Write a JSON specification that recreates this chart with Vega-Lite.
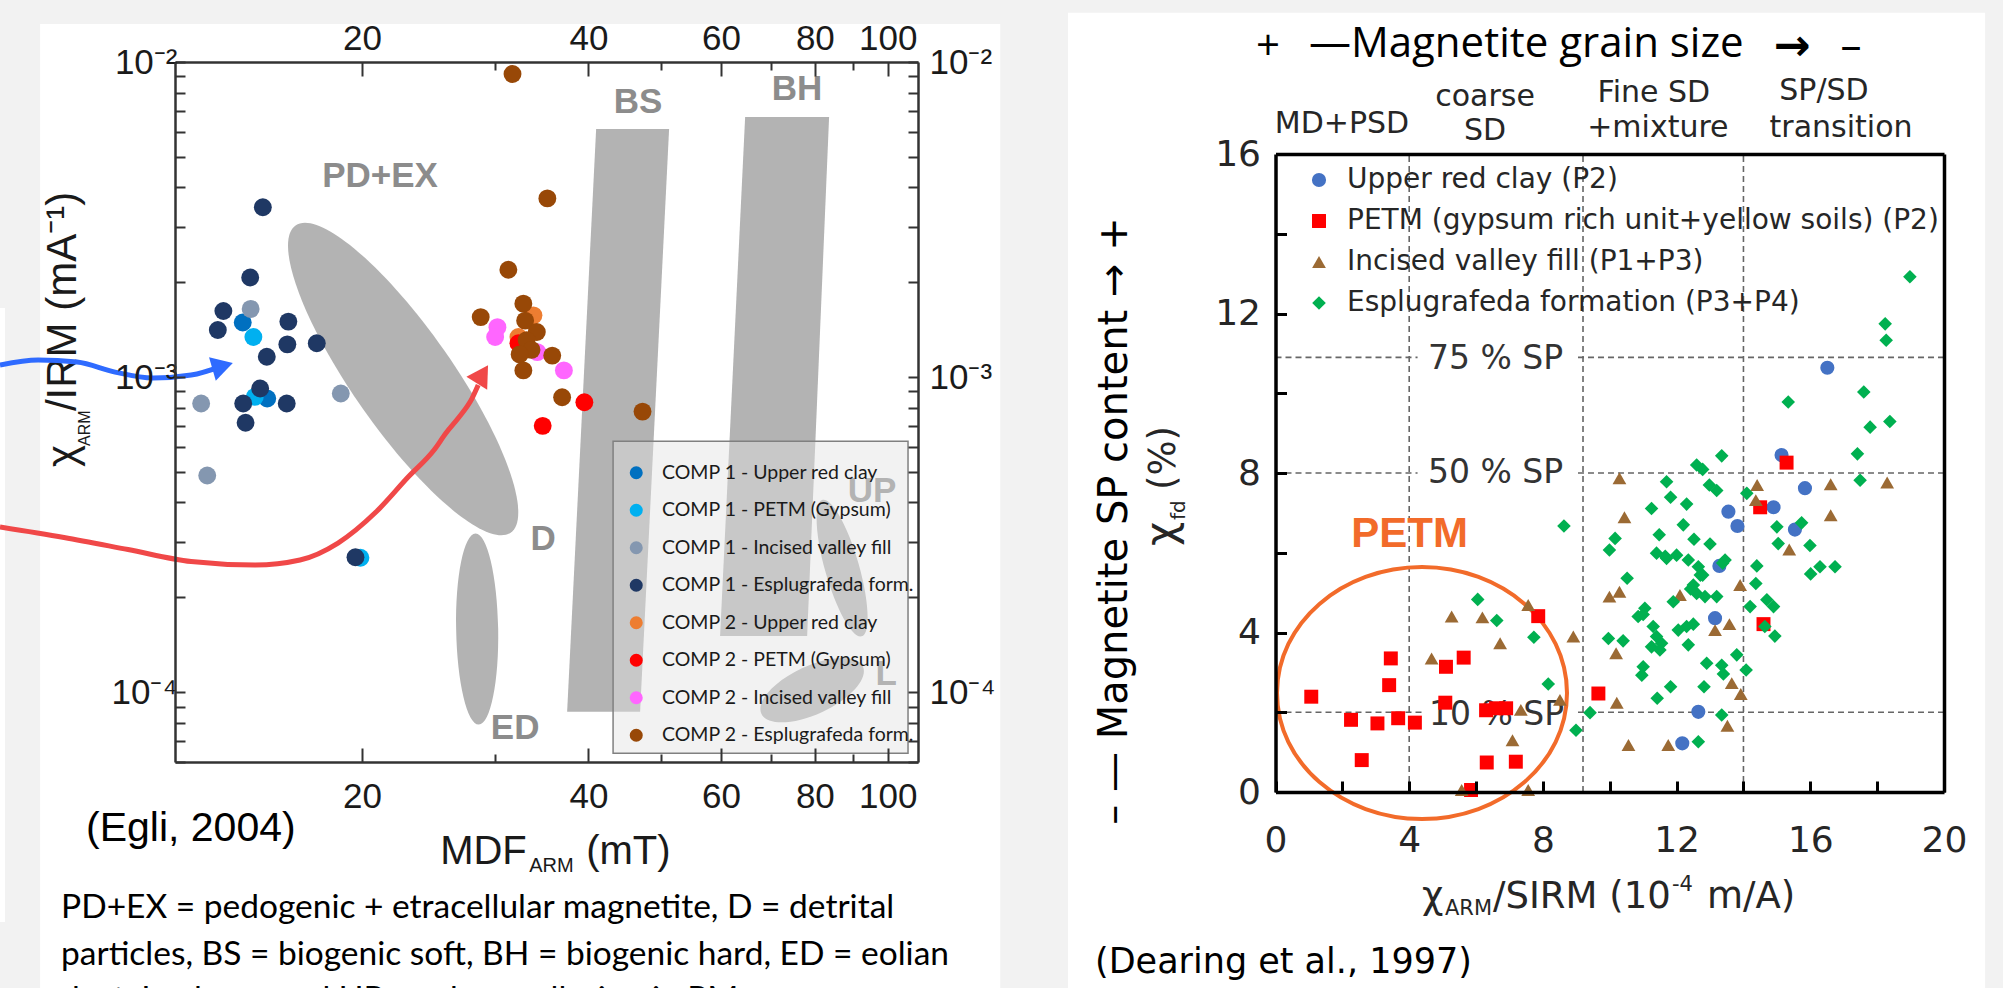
{
"$schema":"https://vega.github.io/schema/vega-lite/v6.json",
"width":2003,"height":988,"padding":0,"autosize":{"type":"none"},
"background":"#f2f2f2",
"config":{"view":{"stroke":null},"axis":{"grid":false,"zindex":1}},
"datasets":{
"one":[{}],
"leftPanels":[{"x":7.463,"x2":141.1,"y":0.0132,"y2":0.00001149},{"x":6.601,"x2":6.703,"y":0.001656,"y2":0.00001862}],
"polys":[{"name":"BS","y":0.00613,"xl":40.95,"xr":51.2},{"name":"BS","y":0.0000867,"xl":37.47,"xr":46.85},{"name":"BH","y":0.00669,"xl":64.62,"xr":83.56},{"name":"BH","y":0.0001506,"xl":59.85,"xr":78.13}],
"leftLabels":[{"t":"PD+EX","x":21.13,"y":0.004345},{"t":"BS","x":46.57,"y":0.007464},{"t":"BH","x":75.77,"y":0.008209},{"t":"D","x":34.82,"y":0.000306},{"t":"ED","x":31.96,"y":0.00007686},{"t":"UP","x":95.33,"y":0.0004346},{"t":"L","x":99.5,"y":0.00011405}],
"leftPoints":[
{"x":13.88,"y":0.00149,"g":"COMP 1 - Upper red clay"},{"x":14.96,"y":0.000855,"g":"COMP 1 - Upper red clay"},
{"x":14.34,"y":0.00134,"g":"COMP 1 - PETM (Gypsum)"},{"x":14.4,"y":0.000865,"g":"COMP 1 - PETM (Gypsum)"},{"x":19.9,"y":0.000267,"g":"COMP 1 - PETM (Gypsum)"},
{"x":14.22,"y":0.001645,"g":"COMP 1 - Incised valley fill"},{"x":12.22,"y":0.000824,"g":"COMP 1 - Incised valley fill"},{"x":18.74,"y":0.000887,"g":"COMP 1 - Incised valley fill"},{"x":12.45,"y":0.000487,"g":"COMP 1 - Incised valley fill"},
{"x":14.76,"y":0.00346,"g":"COMP 1 - Esplugrafeda form."},{"x":14.2,"y":0.00207,"g":"COMP 1 - Esplugrafeda form."},{"x":13.08,"y":0.00162,"g":"COMP 1 - Esplugrafeda form."},{"x":12.86,"y":0.00141,"g":"COMP 1 - Esplugrafeda form."},{"x":15.96,"y":0.0015,"g":"COMP 1 - Esplugrafeda form."},{"x":15.91,"y":0.00127,"g":"COMP 1 - Esplugrafeda form."},{"x":17.41,"y":0.00128,"g":"COMP 1 - Esplugrafeda form."},{"x":14.94,"y":0.00116,"g":"COMP 1 - Esplugrafeda form."},{"x":14.64,"y":0.00092,"g":"COMP 1 - Esplugrafeda form."},{"x":13.9,"y":0.000824,"g":"COMP 1 - Esplugrafeda form."},{"x":15.88,"y":0.000824,"g":"COMP 1 - Esplugrafeda form."},{"x":14.0,"y":0.000716,"g":"COMP 1 - Esplugrafeda form."},{"x":19.6,"y":0.000268,"g":"COMP 1 - Esplugrafeda form."},
{"x":33.8,"y":0.00157,"g":"COMP 2 - Upper red clay"},{"x":32.28,"y":0.00134,"g":"COMP 2 - Upper red clay"},
{"x":32.28,"y":0.00128,"g":"COMP 2 - PETM (Gypsum)"},{"x":39.5,"y":0.000832,"g":"COMP 2 - PETM (Gypsum)"},{"x":34.77,"y":0.0007,"g":"COMP 2 - PETM (Gypsum)"},
{"x":30.27,"y":0.00144,"g":"COMP 2 - Incised valley fill"},{"x":30.06,"y":0.00134,"g":"COMP 2 - Incised valley fill"},{"x":34.2,"y":0.0012,"g":"COMP 2 - Incised valley fill"},{"x":37.1,"y":0.00105,"g":"COMP 2 - Incised valley fill"},
{"x":31.7,"y":0.00916,"g":"COMP 2 - Esplugrafeda form."},{"x":35.27,"y":0.00369,"g":"COMP 2 - Esplugrafeda form."},{"x":31.3,"y":0.00219,"g":"COMP 2 - Esplugrafeda form."},{"x":32.77,"y":0.00171,"g":"COMP 2 - Esplugrafeda form."},{"x":28.76,"y":0.00155,"g":"COMP 2 - Esplugrafeda form."},{"x":32.95,"y":0.00151,"g":"COMP 2 - Esplugrafeda form."},{"x":34.15,"y":0.00139,"g":"COMP 2 - Esplugrafeda form."},{"x":33.1,"y":0.00131,"g":"COMP 2 - Esplugrafeda form."},{"x":33.6,"y":0.00122,"g":"COMP 2 - Esplugrafeda form."},{"x":32.4,"y":0.00118,"g":"COMP 2 - Esplugrafeda form."},{"x":35.8,"y":0.00117,"g":"COMP 2 - Esplugrafeda form."},{"x":32.77,"y":0.00105,"g":"COMP 2 - Esplugrafeda form."},{"x":36.9,"y":0.000863,"g":"COMP 2 - Esplugrafeda form."},{"x":47.2,"y":0.000777,"g":"COMP 2 - Esplugrafeda form."}
],
"arrows":[
{"a":"blue","x":6.601,"y":0.001092},{"a":"blue","x":7.418,"y":0.001132},{"a":"blue","x":8.357,"y":0.001116},{"a":"blue","x":9.388,"y":0.001037},{"a":"blue","x":10.546,"y":0.0009927},{"a":"blue","x":11.85,"y":0.001015},{"a":"blue","x":13.03,"y":0.001084},
{"a":"red","x":6.601,"y":0.0003341},{"a":"red","x":8.03,"y":0.0003094},{"a":"red","x":9.77,"y":0.0002834},{"a":"red","x":11.85,"y":0.0002597},{"a":"red","x":14.414,"y":0.0002531},{"a":"red","x":16.54,"y":0.0002626},{"a":"red","x":18.58,"y":0.0002972},{"a":"red","x":20.87,"y":0.0003728},{"a":"red","x":23.03,"y":0.0004814},{"a":"red","x":24.93,"y":0.0005865},{"a":"red","x":25.86,"y":0.0006641},{"a":"red","x":26.92,"y":0.0007464},{"a":"red","x":28.02,"y":0.0008577},{"a":"red","x":28.54,"y":0.0009431}
],
"rulesH":[{"x":0,"x2":4.25,"y":10.9},{"x":9.05,"x2":20,"y":10.9},{"x":0,"x2":4.25,"y":8},{"x":9.05,"x2":20,"y":8},{"x":0,"x2":4.4,"y":2},{"x":9.05,"x2":20,"y":2}],
"rulesV":[{"x":4,"y":0,"y2":16},{"x":9.2,"y":0,"y2":16},{"x":14,"y":0,"y2":16}],
"spLabels":[{"t":"75 % SP","x":4.56,"y":10.86},{"t":"50 % SP","x":4.56,"y":8.0},{"t":"10 % SP","x":4.59,"y":1.93}],
"catLabels":[{"t":"MD+PSD","x":1.99,"y":16.53},{"t":"coarse","x":6.27,"y":17.2},{"t":"SD","x":6.27,"y":16.35},{"t":"Fine SD","x":11.32,"y":17.3},{"t":"+mixture","x":11.44,"y":16.43},{"t":"SP/SD","x":16.41,"y":17.35},{"t":"transition","x":16.92,"y":16.43}],
"rightPoints":[
{"x":13.55,"y":7.03,"g":"Upper red clay (P2)"},{"x":13.82,"y":6.67,"g":"Upper red clay (P2)"},{"x":13.28,"y":5.67,"g":"Upper red clay (P2)"},{"x":13.15,"y":4.36,"g":"Upper red clay (P2)"},{"x":12.65,"y":2.01,"g":"Upper red clay (P2)"},{"x":12.17,"y":1.22,"g":"Upper red clay (P2)"},{"x":14.9,"y":7.14,"g":"Upper red clay (P2)"},{"x":15.14,"y":8.45,"g":"Upper red clay (P2)"},{"x":16.51,"y":10.64,"g":"Upper red clay (P2)"},{"x":15.84,"y":7.62,"g":"Upper red clay (P2)"},{"x":15.54,"y":6.58,"g":"Upper red clay (P2)"},
{"x":1.07,"y":2.39,"g":"PETM (gypsum rich unit+yellow soils) (P2)"},{"x":3.45,"y":3.35,"g":"PETM (gypsum rich unit+yellow soils) (P2)"},{"x":3.4,"y":2.68,"g":"PETM (gypsum rich unit+yellow soils) (P2)"},{"x":2.26,"y":1.81,"g":"PETM (gypsum rich unit+yellow soils) (P2)"},{"x":3.05,"y":1.72,"g":"PETM (gypsum rich unit+yellow soils) (P2)"},{"x":3.67,"y":1.85,"g":"PETM (gypsum rich unit+yellow soils) (P2)"},{"x":4.17,"y":1.74,"g":"PETM (gypsum rich unit+yellow soils) (P2)"},{"x":2.58,"y":0.8,"g":"PETM (gypsum rich unit+yellow soils) (P2)"},{"x":5.1,"y":3.14,"g":"PETM (gypsum rich unit+yellow soils) (P2)"},{"x":5.63,"y":3.37,"g":"PETM (gypsum rich unit+yellow soils) (P2)"},{"x":5.08,"y":2.24,"g":"PETM (gypsum rich unit+yellow soils) (P2)"},{"x":6.3,"y":2.05,"g":"PETM (gypsum rich unit+yellow soils) (P2)"},{"x":6.6,"y":2.1,"g":"PETM (gypsum rich unit+yellow soils) (P2)"},{"x":6.9,"y":2.1,"g":"PETM (gypsum rich unit+yellow soils) (P2)"},{"x":6.32,"y":0.74,"g":"PETM (gypsum rich unit+yellow soils) (P2)"},{"x":7.19,"y":0.76,"g":"PETM (gypsum rich unit+yellow soils) (P2)"},{"x":5.85,"y":0.05,"g":"PETM (gypsum rich unit+yellow soils) (P2)"},{"x":7.86,"y":4.41,"g":"PETM (gypsum rich unit+yellow soils) (P2)"},{"x":9.66,"y":2.47,"g":"PETM (gypsum rich unit+yellow soils) (P2)"},{"x":14.5,"y":7.14,"g":"PETM (gypsum rich unit+yellow soils) (P2)"},{"x":14.6,"y":4.21,"g":"PETM (gypsum rich unit+yellow soils) (P2)"},{"x":15.29,"y":8.26,"g":"PETM (gypsum rich unit+yellow soils) (P2)"},
{"x":5.27,"y":4.4,"g":"Incised valley fill (P1+P3)"},{"x":6.19,"y":4.38,"g":"Incised valley fill (P1+P3)"},{"x":7.56,"y":4.69,"g":"Incised valley fill (P1+P3)"},{"x":6.72,"y":3.73,"g":"Incised valley fill (P1+P3)"},{"x":4.67,"y":3.35,"g":"Incised valley fill (P1+P3)"},{"x":8.91,"y":3.9,"g":"Incised valley fill (P1+P3)"},{"x":7.34,"y":2.06,"g":"Incised valley fill (P1+P3)"},{"x":8.51,"y":2.31,"g":"Incised valley fill (P1+P3)"},{"x":7.09,"y":1.3,"g":"Incised valley fill (P1+P3)"},{"x":5.57,"y":0.05,"g":"Incised valley fill (P1+P3)"},{"x":7.56,"y":0.05,"g":"Incised valley fill (P1+P3)"},{"x":10.29,"y":7.87,"g":"Incised valley fill (P1+P3)"},{"x":10.44,"y":6.89,"g":"Incised valley fill (P1+P3)"},{"x":9.99,"y":4.9,"g":"Incised valley fill (P1+P3)"},{"x":10.29,"y":5.02,"g":"Incised valley fill (P1+P3)"},{"x":10.19,"y":3.48,"g":"Incised valley fill (P1+P3)"},{"x":10.21,"y":2.24,"g":"Incised valley fill (P1+P3)"},{"x":10.56,"y":1.18,"g":"Incised valley fill (P1+P3)"},{"x":11.75,"y":1.18,"g":"Incised valley fill (P1+P3)"},{"x":12.1,"y":4.94,"g":"Incised valley fill (P1+P3)"},{"x":13.9,"y":5.19,"g":"Incised valley fill (P1+P3)"},{"x":13.15,"y":4.06,"g":"Incised valley fill (P1+P3)"},{"x":13.58,"y":4.21,"g":"Incised valley fill (P1+P3)"},{"x":13.65,"y":2.73,"g":"Incised valley fill (P1+P3)"},{"x":13.92,"y":2.46,"g":"Incised valley fill (P1+P3)"},{"x":13.52,"y":1.66,"g":"Incised valley fill (P1+P3)"},{"x":14.41,"y":7.7,"g":"Incised valley fill (P1+P3)"},{"x":14.37,"y":7.32,"g":"Incised valley fill (P1+P3)"},{"x":16.61,"y":7.72,"g":"Incised valley fill (P1+P3)"},{"x":16.61,"y":6.94,"g":"Incised valley fill (P1+P3)"},{"x":18.3,"y":7.76,"g":"Incised valley fill (P1+P3)"},{"x":15.37,"y":6.08,"g":"Incised valley fill (P1+P3)"},
{"x":18.98,"y":12.92,"g":"Esplugrafeda formation (P3+P4)"},{"x":18.24,"y":11.74,"g":"Esplugrafeda formation (P3+P4)"},{"x":18.27,"y":11.33,"g":"Esplugrafeda formation (P3+P4)"},{"x":17.6,"y":10.03,"g":"Esplugrafeda formation (P3+P4)"},{"x":15.34,"y":9.78,"g":"Esplugrafeda formation (P3+P4)"},{"x":17.79,"y":9.15,"g":"Esplugrafeda formation (P3+P4)"},{"x":18.38,"y":9.29,"g":"Esplugrafeda formation (P3+P4)"},{"x":17.41,"y":8.48,"g":"Esplugrafeda formation (P3+P4)"},{"x":17.49,"y":7.82,"g":"Esplugrafeda formation (P3+P4)"},{"x":14.1,"y":7.49,"g":"Esplugrafeda formation (P3+P4)"},{"x":15.0,"y":6.65,"g":"Esplugrafeda formation (P3+P4)"},{"x":15.04,"y":6.23,"g":"Esplugrafeda formation (P3+P4)"},{"x":15.74,"y":6.75,"g":"Esplugrafeda formation (P3+P4)"},{"x":15.99,"y":6.18,"g":"Esplugrafeda formation (P3+P4)"},{"x":16.01,"y":5.47,"g":"Esplugrafeda formation (P3+P4)"},{"x":16.29,"y":5.65,"g":"Esplugrafeda formation (P3+P4)"},{"x":16.74,"y":5.65,"g":"Esplugrafeda formation (P3+P4)"},{"x":14.4,"y":5.67,"g":"Esplugrafeda formation (P3+P4)"},{"x":14.37,"y":5.23,"g":"Esplugrafeda formation (P3+P4)"},{"x":14.7,"y":4.82,"g":"Esplugrafeda formation (P3+P4)"},{"x":14.9,"y":4.65,"g":"Esplugrafeda formation (P3+P4)"},{"x":14.2,"y":4.65,"g":"Esplugrafeda formation (P3+P4)"},{"x":14.64,"y":4.15,"g":"Esplugrafeda formation (P3+P4)"},{"x":14.94,"y":3.91,"g":"Esplugrafeda formation (P3+P4)"},{"x":13.35,"y":8.43,"g":"Esplugrafeda formation (P3+P4)"},{"x":12.6,"y":8.2,"g":"Esplugrafeda formation (P3+P4)"},{"x":12.78,"y":8.09,"g":"Esplugrafeda formation (P3+P4)"},{"x":11.7,"y":7.78,"g":"Esplugrafeda formation (P3+P4)"},{"x":11.82,"y":7.39,"g":"Esplugrafeda formation (P3+P4)"},{"x":12.3,"y":7.22,"g":"Esplugrafeda formation (P3+P4)"},{"x":12.98,"y":7.7,"g":"Esplugrafeda formation (P3+P4)"},{"x":13.2,"y":7.56,"g":"Esplugrafeda formation (P3+P4)"},{"x":11.25,"y":7.11,"g":"Esplugrafeda formation (P3+P4)"},{"x":12.2,"y":6.7,"g":"Esplugrafeda formation (P3+P4)"},{"x":8.63,"y":6.67,"g":"Esplugrafeda formation (P3+P4)"},{"x":11.48,"y":6.45,"g":"Esplugrafeda formation (P3+P4)"},{"x":12.52,"y":6.34,"g":"Esplugrafeda formation (P3+P4)"},{"x":13.0,"y":6.22,"g":"Esplugrafeda formation (P3+P4)"},{"x":10.16,"y":6.36,"g":"Esplugrafeda formation (P3+P4)"},{"x":9.99,"y":6.07,"g":"Esplugrafeda formation (P3+P4)"},{"x":11.4,"y":5.99,"g":"Esplugrafeda formation (P3+P4)"},{"x":11.7,"y":5.86,"g":"Esplugrafeda formation (P3+P4)"},{"x":12.0,"y":5.94,"g":"Esplugrafeda formation (P3+P4)"},{"x":12.35,"y":5.82,"g":"Esplugrafeda formation (P3+P4)"},{"x":12.65,"y":5.65,"g":"Esplugrafeda formation (P3+P4)"},{"x":12.78,"y":5.44,"g":"Esplugrafeda formation (P3+P4)"},{"x":12.5,"y":5.19,"g":"Esplugrafeda formation (P3+P4)"},{"x":12.6,"y":4.98,"g":"Esplugrafeda formation (P3+P4)"},{"x":12.85,"y":4.9,"g":"Esplugrafeda formation (P3+P4)"},{"x":13.2,"y":4.9,"g":"Esplugrafeda formation (P3+P4)"},{"x":13.45,"y":5.82,"g":"Esplugrafeda formation (P3+P4)"},{"x":11.9,"y":4.77,"g":"Esplugrafeda formation (P3+P4)"},{"x":10.52,"y":5.36,"g":"Esplugrafeda formation (P3+P4)"},{"x":10.85,"y":4.4,"g":"Esplugrafeda formation (P3+P4)"},{"x":11.05,"y":4.61,"g":"Esplugrafeda formation (P3+P4)"},{"x":9.96,"y":3.85,"g":"Esplugrafeda formation (P3+P4)"},{"x":10.4,"y":3.79,"g":"Esplugrafeda formation (P3+P4)"},{"x":11.3,"y":4.15,"g":"Esplugrafeda formation (P3+P4)"},{"x":11.4,"y":3.9,"g":"Esplugrafeda formation (P3+P4)"},{"x":11.55,"y":3.73,"g":"Esplugrafeda formation (P3+P4)"},{"x":11.25,"y":3.64,"g":"Esplugrafeda formation (P3+P4)"},{"x":11.5,"y":3.56,"g":"Esplugrafeda formation (P3+P4)"},{"x":12.05,"y":4.06,"g":"Esplugrafeda formation (P3+P4)"},{"x":12.3,"y":4.15,"g":"Esplugrafeda formation (P3+P4)"},{"x":12.5,"y":4.21,"g":"Esplugrafeda formation (P3+P4)"},{"x":12.35,"y":3.69,"g":"Esplugrafeda formation (P3+P4)"},{"x":11.0,"y":3.14,"g":"Esplugrafeda formation (P3+P4)"},{"x":10.96,"y":2.93,"g":"Esplugrafeda formation (P3+P4)"},{"x":12.9,"y":3.23,"g":"Esplugrafeda formation (P3+P4)"},{"x":13.35,"y":3.18,"g":"Esplugrafeda formation (P3+P4)"},{"x":13.8,"y":3.44,"g":"Esplugrafeda formation (P3+P4)"},{"x":14.08,"y":3.06,"g":"Esplugrafeda formation (P3+P4)"},{"x":13.4,"y":2.96,"g":"Esplugrafeda formation (P3+P4)"},{"x":11.82,"y":2.64,"g":"Esplugrafeda formation (P3+P4)"},{"x":11.42,"y":2.35,"g":"Esplugrafeda formation (P3+P4)"},{"x":12.82,"y":2.64,"g":"Esplugrafeda formation (P3+P4)"},{"x":13.35,"y":1.93,"g":"Esplugrafeda formation (P3+P4)"},{"x":12.65,"y":1.26,"g":"Esplugrafeda formation (P3+P4)"},{"x":9.41,"y":1.99,"g":"Esplugrafeda formation (P3+P4)"},{"x":8.99,"y":1.55,"g":"Esplugrafeda formation (P3+P4)"},{"x":8.16,"y":2.71,"g":"Esplugrafeda formation (P3+P4)"},{"x":7.73,"y":3.88,"g":"Esplugrafeda formation (P3+P4)"},{"x":6.05,"y":4.83,"g":"Esplugrafeda formation (P3+P4)"},{"x":6.62,"y":4.3,"g":"Esplugrafeda formation (P3+P4)"},{"x":11.66,"y":5.91,"g":"Esplugrafeda formation (P3+P4)"},{"x":12.71,"y":5.44,"g":"Esplugrafeda formation (P3+P4)"},{"x":12.42,"y":5.09,"g":"Esplugrafeda formation (P3+P4)"},{"x":13.38,"y":5.74,"g":"Esplugrafeda formation (P3+P4)"},{"x":11.0,"y":4.45,"g":"Esplugrafeda formation (P3+P4)"}
]
},
"layer":[
{
"layer":[
{"data":{"name":"leftPanels"},"mark":{"type":"rect","color":"#ffffff","opacity":1},
 "encoding":{"x":{"field":"x","type":"quantitative","scale":{"type":"log","domain":[11.28,109.7],"range":[175,918],"nice":false},"axis":null},"x2":{"field":"x2"},
 "y":{"field":"y","type":"quantitative","scale":{"type":"log","domain":[0.00006,0.01],"range":[762,62],"nice":false},"axis":null},"y2":{"field":"y2"}}},
{"data":{"name":"polys"},"mark":{"type":"area","orient":"horizontal","color":"#b3b3b3","opacity":1},
 "encoding":{"y":{"field":"y","type":"quantitative","scale":{"type":"log","domain":[0.00006,0.01],"range":[762,62],"nice":false},
   "axis":{"orient":"right","offset":-1085,"values":[0.00006,0.00007,0.00008,0.00009,0.0001,0.0002,0.0003,0.0004,0.0005,0.0006,0.0007,0.0008,0.0009,0.001,0.002,0.003,0.004,0.005,0.006,0.007,0.008,0.009,0.01],"tickSize":-10,"tickWidth":2,"tickColor":"#333","domainColor":"#333","domainWidth":2.5,"labelExpr":"abs(log(datum.value)/LN10+2)<0.01 ? '10⁻²' : abs(log(datum.value)/LN10+3)<0.01 ? '10⁻³' : abs(log(datum.value)/LN10+4)<0.01 ? '10⁻⁴' : ''","labelFont":"Liberation Sans","labelFontSize":35,"labelColor":"#1a1a1a","labelPadding":21,"labelFlush":false,"labelOverlap":false,"title":null,"zindex":1}},
  "x":{"field":"xl","type":"quantitative","stack":null,"scale":{"type":"log","domain":[11.28,109.7],"range":[175,918],"nice":false},
   "axis":{"orient":"top","offset":-62,"values":[20,40,60,80,100],"tickSize":-14,"tickWidth":2,"tickColor":"#333","domainColor":"#333","domainWidth":2.5,"labelExpr":"format(datum.value,'d')","labelFont":"Liberation Sans","labelFontSize":35,"labelColor":"#1a1a1a","labelPadding":20,"labelFlush":false,"labelOverlap":false,"title":null,"zindex":1}},
  "x2":{"field":"xr"},"detail":{"field":"name"}}},
{"data":{"name":"one"},"mark":{"type":"point","shape":"M-1,0C-1,-0.1475,-0.5523,-0.267,0,-0.267C0.5523,-0.267,1,-0.1475,1,0C1,0.1475,0.5523,0.267,0,0.267C-0.5523,0.267,-1,0.1475,-1,0Z","size":140625,"angle":55,"filled":true,"color":"#b3b3b3","opacity":1},
 "encoding":{"x":{"datum":22.68,"scale":{"type":"log","domain":[11.28,109.7],"range":[175,918],"nice":false},
   "axis":{"orient":"bottom","offset":-226,"values":[30,50,70,90],"tickSize":-8,"tickWidth":2,"tickColor":"#333","domain":false,"labels":false,"title":null,"zindex":1}},
  "y":{"datum":0.0009855,"scale":{"type":"log","domain":[0.00006,0.01],"range":[762,62],"nice":false},"axis":null}}},
{"data":{"name":"one"},"mark":{"type":"point","shape":"M-1,0C-1,-0.1215,-0.5523,-0.22,0,-0.22C0.5523,-0.22,1,-0.1215,1,0C1,0.1215,0.5523,0.22,0,0.22C-0.5523,0.22,-1,0.1215,-1,0Z","size":36481,"angle":89,"filled":true,"color":"#b3b3b3","opacity":1},
 "encoding":{"x":{"datum":28.45,"scale":{"type":"log","domain":[11.28,109.7],"range":[175,918],"nice":false},
   "axis":{"orient":"top","offset":-62,"values":[30,50,70,90],"tickSize":-8,"tickWidth":2,"tickColor":"#333","domain":false,"labels":false,"title":null,"zindex":1}},
  "y":{"datum":0.0001585,"scale":{"type":"log","domain":[0.00006,0.01],"range":[762,62],"nice":false},"axis":null}}},
{"data":{"name":"one"},"mark":{"type":"point","shape":"M-1,0C-1,-0.1326,-0.5523,-0.24,0,-0.24C0.5523,-0.24,1,-0.1326,1,0C1,0.1326,0.5523,0.24,0,0.24C-0.5523,0.24,-1,0.1326,-1,0Z","size":20164,"angle":74,"filled":true,"color":"#b3b3b3","opacity":1},
 "encoding":{"x":{"datum":86.96,"scale":{"type":"log","domain":[11.28,109.7],"range":[175,918],"nice":false},"axis":null},
  "y":{"datum":0.0002475,"scale":{"type":"log","domain":[0.00006,0.01],"range":[762,62],"nice":false},"axis":null}}},
{"data":{"name":"one"},"mark":{"type":"point","shape":"M-1,0C-1,-0.2375,-0.5523,-0.43,0,-0.43C0.5523,-0.43,1,-0.2375,1,0C1,0.2375,0.5523,0.43,0,0.43C-0.5523,0.43,-1,0.2375,-1,0Z","size":12544,"angle":335,"filled":true,"color":"#b3b3b3","opacity":1},
 "encoding":{"x":{"datum":79.33,"scale":{"type":"log","domain":[11.28,109.7],"range":[175,918],"nice":false},"axis":null},
  "y":{"datum":0.00010147,"scale":{"type":"log","domain":[0.00006,0.01],"range":[762,62],"nice":false},"axis":null}}},
{"data":{"name":"leftLabels"},"mark":{"type":"text","font":"Liberation Sans","fontWeight":"bold","fontSize":35,"color":"#8c8c8c","align":"center","baseline":"middle"},
 "encoding":{"text":{"field":"t"},"x":{"field":"x","type":"quantitative","scale":{"type":"log","domain":[11.28,109.7],"range":[175,918],"nice":false},"axis":null},
  "y":{"field":"y","type":"quantitative","scale":{"type":"log","domain":[0.00006,0.01],"range":[762,62],"nice":false},"axis":null}}},
{"data":{"name":"leftPoints"},"mark":{"type":"point","shape":"circle","filled":true,"size":320,"opacity":1},
 "encoding":{"x":{"field":"x","type":"quantitative","scale":{"type":"log","domain":[11.28,109.7],"range":[175,918],"nice":false},
   "axis":{"orient":"bottom","offset":-226,"values":[20,40,60,80,100],"tickSize":-14,"tickWidth":2,"tickColor":"#333","domainColor":"#333","domainWidth":2.5,"labelExpr":"format(datum.value,'d')","labelFont":"Liberation Sans","labelFontSize":35,"labelColor":"#1a1a1a","labelPadding":31,"labelFlush":false,"labelOverlap":false,"title":null,"zindex":1}},
  "y":{"field":"y","type":"quantitative","scale":{"type":"log","domain":[0.00006,0.01],"range":[762,62],"nice":false},
   "axis":{"orient":"left","offset":-175,"values":[0.00006,0.00007,0.00008,0.00009,0.0001,0.0002,0.0003,0.0004,0.0005,0.0006,0.0007,0.0008,0.0009,0.001,0.002,0.003,0.004,0.005,0.006,0.007,0.008,0.009,0.01],"tickSize":-10,"tickWidth":2,"tickColor":"#333","domainColor":"#333","domainWidth":2.5,"labelExpr":"abs(log(datum.value)/LN10+2)<0.01 ? '10⁻²' : abs(log(datum.value)/LN10+3)<0.01 ? '10⁻³' : abs(log(datum.value)/LN10+4)<0.01 ? '10⁻⁴' : ''","labelFont":"Liberation Sans","labelFontSize":35,"labelColor":"#1a1a1a","labelPadding":8,"labelFlush":false,"labelOverlap":false,"title":null,"zindex":1}},
  "color":{"field":"g","type":"nominal","scale":{"domain":["COMP 1 - Upper red clay","COMP 1 - PETM (Gypsum)","COMP 1 - Incised valley fill","COMP 1 - Esplugrafeda form.","COMP 2 - Upper red clay","COMP 2 - PETM (Gypsum)","COMP 2 - Incised valley fill","COMP 2 - Esplugrafeda form."],"range":["#0070c0","#00b0f0","#8497b0","#1f3864","#ed7d31","#ff0000","#ff66ff","#984807"]},
   "legend":{"orient":"none","legendX":626.5,"legendY":463,"title":null,"labelFont":"Lato","labelFontSize":19.5,"labelColor":"#1a1a1a","symbolType":"circle","symbolSize":170,"rowPadding":16.5,"labelOffset":16,"padding":0,"labelLimit":500}}}},
{"data":{"name":"one"},"mark":{"type":"rect","fill":"#e2e2e2","fillOpacity":0.45,"stroke":"#808080","strokeWidth":1.5},
 "encoding":{"x":{"datum":43.13,"scale":{"type":"log","domain":[11.28,109.7],"range":[175,918],"nice":false},"axis":null},"x2":{"datum":106.4},
  "y":{"datum":0.000626,"scale":{"type":"log","domain":[0.00006,0.01],"range":[762,62],"nice":false},"axis":null},"y2":{"datum":0.000064}}},
{"data":{"name":"one"},"mark":{"type":"text","text":"(Egli, 2004)","font":"Liberation Sans","fontSize":41,"align":"left","baseline":"alphabetic","color":"#000"},
 "encoding":{"x":{"datum":8.59,"scale":{"type":"log","domain":[11.28,109.7],"range":[175,918],"nice":false},"axis":null},"y":{"datum":0.00003365,"scale":{"type":"log","domain":[0.00006,0.01],"range":[762,62],"nice":false},"axis":null}}},
{"data":{"name":"one"},"mark":{"type":"text","text":"MDF","font":"Liberation Sans","fontSize":40,"align":"left","baseline":"alphabetic","color":"#1a1a1a"},
 "encoding":{"x":{"datum":25.4,"scale":{"type":"log","domain":[11.28,109.7],"range":[175,918],"nice":false},"axis":null},"y":{"datum":0.00002854,"scale":{"type":"log","domain":[0.00006,0.01],"range":[762,62],"nice":false},"axis":null}}},
{"data":{"name":"one"},"mark":{"type":"text","text":"ARM","font":"Liberation Sans","fontSize":20,"align":"left","baseline":"alphabetic","color":"#1a1a1a"},
 "encoding":{"x":{"datum":33.36,"scale":{"type":"log","domain":[11.28,109.7],"range":[175,918],"nice":false},"axis":null},"y":{"datum":0.00002683,"scale":{"type":"log","domain":[0.00006,0.01],"range":[762,62],"nice":false},"axis":null}}},
{"data":{"name":"one"},"mark":{"type":"text","text":"(mT)","font":"Liberation Sans","fontSize":40,"align":"left","baseline":"alphabetic","color":"#1a1a1a"},
 "encoding":{"x":{"datum":39.72,"scale":{"type":"log","domain":[11.28,109.7],"range":[175,918],"nice":false},"axis":null},"y":{"datum":0.00002854,"scale":{"type":"log","domain":[0.00006,0.01],"range":[762,62],"nice":false},"axis":null}}},
{"data":{"name":"one"},"mark":{"type":"text","text":"χ","font":"Liberation Sans","fontSize":42,"angle":270,"align":"left","baseline":"alphabetic","color":"#1a1a1a"},
 "encoding":{"x":{"datum":8.318,"scale":{"type":"log","domain":[11.28,109.7],"range":[175,918],"nice":false},"axis":null},"y":{"datum":0.0005179,"scale":{"type":"log","domain":[0.00006,0.01],"range":[762,62],"nice":false},"axis":null}}},
{"data":{"name":"one"},"mark":{"type":"text","text":"ARM","font":"Liberation Sans","fontSize":16,"angle":270,"align":"left","baseline":"alphabetic","color":"#1a1a1a"},
 "encoding":{"x":{"datum":8.696,"scale":{"type":"log","domain":[11.28,109.7],"range":[175,918],"nice":false},"axis":null},"y":{"datum":0.000604,"scale":{"type":"log","domain":[0.00006,0.01],"range":[762,62],"nice":false},"axis":null}}},
{"data":{"name":"one"},"mark":{"type":"text","text":"/IRM (mA⁻¹)","font":"Liberation Sans","fontSize":42,"angle":270,"align":"left","baseline":"alphabetic","color":"#1a1a1a"},
 "encoding":{"x":{"datum":8.318,"scale":{"type":"log","domain":[11.28,109.7],"range":[175,918],"nice":false},"axis":null},"y":{"datum":0.00078,"scale":{"type":"log","domain":[0.00006,0.01],"range":[762,62],"nice":false},"axis":null}}},
{"data":{"name":"one"},"mark":{"type":"text","text":"PD+EX = pedogenic + etracellular magnetite, D = detrital","font":"Lato","fontSize":33.5,"align":"left","baseline":"alphabetic","color":"#000"},
 "encoding":{"x":{"datum":7.958,"scale":{"type":"log","domain":[11.28,109.7],"range":[175,918],"nice":false},"axis":null},"y":{"datum":0.00001917,"scale":{"type":"log","domain":[0.00006,0.01],"range":[762,62],"nice":false},"axis":null}}},
{"data":{"name":"one"},"mark":{"type":"text","text":"particles, BS = biogenic soft, BH = biogenic hard, ED = eolian","font":"Lato","fontSize":33.5,"align":"left","baseline":"alphabetic","color":"#000"},
 "encoding":{"x":{"datum":7.958,"scale":{"type":"log","domain":[11.28,109.7],"range":[175,918],"nice":false},"axis":null},"y":{"datum":0.00001359,"scale":{"type":"log","domain":[0.00006,0.01],"range":[762,62],"nice":false},"axis":null}}},
{"data":{"name":"one"},"mark":{"type":"text","text":"dust, L = loess and UP = urban pollution in PM","font":"Lato","fontSize":33.5,"align":"left","baseline":"alphabetic","color":"#000"},
 "encoding":{"x":{"datum":7.958,"scale":{"type":"log","domain":[11.28,109.7],"range":[175,918],"nice":false},"axis":null},"y":{"datum":0.00000978,"scale":{"type":"log","domain":[0.00006,0.01],"range":[762,62],"nice":false},"axis":null}}},
{"data":{"name":"arrows"},"transform":[{"filter":"datum.a === 'blue'"}],"mark":{"type":"line","interpolate":"monotone","color":"#2f6bff","strokeWidth":5},
 "encoding":{"x":{"field":"x","type":"quantitative","scale":{"type":"log","domain":[11.28,109.7],"range":[175,918],"nice":false},"axis":null},"y":{"field":"y","type":"quantitative","scale":{"type":"log","domain":[0.00006,0.01],"range":[762,62],"nice":false},"axis":null}}},
{"data":{"name":"arrows"},"transform":[{"filter":"datum.a === 'red'"}],"mark":{"type":"line","interpolate":"monotone","color":"#f04848","strokeWidth":5},
 "encoding":{"x":{"field":"x","type":"quantitative","scale":{"type":"log","domain":[11.28,109.7],"range":[175,918],"nice":false},"axis":null},"y":{"field":"y","type":"quantitative","scale":{"type":"log","domain":[0.00006,0.01],"range":[762,62],"nice":false},"axis":null}}},
{"data":{"name":"one"},"mark":{"type":"point","shape":"triangle-up","size":600,"angle":74,"filled":true,"color":"#2f6bff","opacity":1},
 "encoding":{"x":{"datum":13.05,"scale":{"type":"log","domain":[11.28,109.7],"range":[175,918],"nice":false},"axis":null},"y":{"datum":0.001084,"scale":{"type":"log","domain":[0.00006,0.01],"range":[762,62],"nice":false},"axis":null}}},
{"data":{"name":"one"},"mark":{"type":"point","shape":"triangle-up","size":600,"angle":32,"filled":true,"color":"#f04848","opacity":1},
 "encoding":{"x":{"datum":28.91,"scale":{"type":"log","domain":[11.28,109.7],"range":[175,918],"nice":false},"axis":null},"y":{"datum":0.0010207,"scale":{"type":"log","domain":[0.00006,0.01],"range":[762,62],"nice":false},"axis":null}}}
],
"resolve":{"axis":{"x":"independent","y":"independent"}}
},
{
"layer":[
{"data":{"name":"one"},"mark":{"type":"rect","color":"#ffffff","opacity":1},
 "encoding":{"x":{"datum":-6.21,"scale":{"type":"linear","domain":[0,20],"range":[1275.5,1944],"nice":false,"zero":false},"axis":null},"x2":{"datum":21.23},
  "y":{"datum":19.54,"scale":{"type":"linear","domain":[0,16],"range":[792,154],"nice":false,"zero":false},"axis":null},"y2":{"datum":-4.92}}},
{"data":{"name":"rulesH"},"mark":{"type":"rule","color":"#666666","strokeWidth":1.6,"strokeDash":[6,4]},
 "encoding":{"x":{"field":"x","type":"quantitative","scale":{"type":"linear","domain":[0,20],"range":[1275.5,1944],"nice":false,"zero":false},
   "axis":{"orient":"top","offset":-154,"ticks":false,"labels":false,"domainColor":"#000","domainWidth":3.5,"title":null,"zindex":1}},"x2":{"field":"x2"},
  "y":{"field":"y","type":"quantitative","scale":{"type":"linear","domain":[0,16],"range":[792,154],"nice":false,"zero":false},"axis":null}}},
{"data":{"name":"rulesV"},"mark":{"type":"rule","color":"#666666","strokeWidth":1.6,"strokeDash":[6,4]},
 "encoding":{"x":{"field":"x","type":"quantitative","scale":{"type":"linear","domain":[0,20],"range":[1275.5,1944],"nice":false,"zero":false},"axis":null},
  "y":{"field":"y","type":"quantitative","scale":{"type":"linear","domain":[0,16],"range":[792,154],"nice":false,"zero":false},
   "axis":{"orient":"right","offset":-59,"ticks":false,"labels":false,"domainColor":"#000","domainWidth":3.5,"title":null,"zindex":1}},"y2":{"field":"y2"}}},
{"data":{"name":"spLabels"},"mark":{"type":"text","font":"DejaVu Sans","fontSize":33,"color":"#333333","align":"left","baseline":"middle"},
 "encoding":{"text":{"field":"t"},"x":{"field":"x","type":"quantitative","scale":{"type":"linear","domain":[0,20],"range":[1275.5,1944],"nice":false,"zero":false},"axis":null},
  "y":{"field":"y","type":"quantitative","scale":{"type":"linear","domain":[0,16],"range":[792,154],"nice":false,"zero":false},"axis":null}}},
{"data":{"name":"one"},"mark":{"type":"point","shape":"M-1,0C-1,-0.48,-0.5523,-0.869,0,-0.869C0.5523,-0.869,1,-0.48,1,0C1,0.48,0.5523,0.869,0,0.869C-0.5523,0.869,-1,0.48,-1,0Z","size":84100,"filled":false,"color":"#f26b2a","strokeWidth":4,"opacity":1},
 "encoding":{"x":{"datum":4.383,"scale":{"type":"linear","domain":[0,20],"range":[1275.5,1944],"nice":false,"zero":false},"axis":null},"y":{"datum":2.483,"scale":{"type":"linear","domain":[0,16],"range":[792,154],"nice":false,"zero":false},"axis":null}}},
{"data":{"name":"one"},"mark":{"type":"text","text":"PETM","font":"Liberation Sans","fontWeight":"bold","fontSize":42,"color":"#f26b2a","align":"center","baseline":"middle"},
 "encoding":{"x":{"datum":4.01,"scale":{"type":"linear","domain":[0,20],"range":[1275.5,1944],"nice":false,"zero":false},"axis":null},"y":{"datum":6.47,"scale":{"type":"linear","domain":[0,16],"range":[792,154],"nice":false,"zero":false},"axis":null}}},
{"data":{"name":"rightPoints"},"mark":{"type":"point","filled":true,"opacity":1},
 "encoding":{"x":{"field":"x","type":"quantitative","scale":{"type":"linear","domain":[0,20],"range":[1275.5,1944],"nice":false,"zero":false},
   "axis":{"orient":"bottom","offset":-196,"values":[0,2,4,6,8,10,12,14,16,18,20],"tickSize":-11,"tickWidth":3,"tickColor":"#000","domainColor":"#000","domainWidth":3.5,"labelExpr":"datum.value % 4 == 0 ? format(datum.value,'d') : ''","labelFont":"DejaVu Sans","labelFontSize":36,"labelColor":"#262626","labelPadding":42,"labelFlush":false,"labelOverlap":false,"title":null,"zindex":1}},
  "y":{"field":"y","type":"quantitative","scale":{"type":"linear","domain":[0,16],"range":[792,154],"nice":false,"zero":false},
   "axis":{"orient":"left","offset":-1275.5,"values":[0,2,4,6,8,10,12,14,16],"tickSize":-11,"tickWidth":3,"tickColor":"#000","domainColor":"#000","domainWidth":3.5,"labelExpr":"datum.value % 4 == 0 ? format(datum.value,'d') : ''","labelFont":"DejaVu Sans","labelFontSize":36,"labelColor":"#262626","labelPadding":26,"labelFlush":false,"labelOverlap":false,"title":null,"zindex":1}},
  "color":{"field":"g","type":"nominal","scale":{"domain":["Upper red clay (P2)","PETM (gypsum rich unit+yellow soils) (P2)","Incised valley fill (P1+P3)","Esplugrafeda formation (P3+P4)"],"range":["#4472c4","#ff0000","#9b6a34","#00b050"]},
   "legend":{"orient":"none","legendX":1305,"legendY":166,"title":null,"labelFont":"DejaVu Sans","labelFontSize":28,"labelColor":"#262626","symbolSize":110,"rowPadding":13,"labelOffset":14,"padding":0,"labelLimit":800}},
  "shape":{"field":"g","type":"nominal","scale":{"domain":["Upper red clay (P2)","PETM (gypsum rich unit+yellow soils) (P2)","Incised valley fill (P1+P3)","Esplugrafeda formation (P3+P4)"],"range":["circle","square","triangle-up","diamond"]},
   "legend":{"orient":"none","legendX":1305,"legendY":166,"title":null,"labelFont":"DejaVu Sans","labelFontSize":28,"labelColor":"#262626","symbolSize":110,"rowPadding":13,"labelOffset":14,"padding":0,"labelLimit":800}},
  "size":{"field":"g","type":"nominal","scale":{"domain":["Upper red clay (P2)","PETM (gypsum rich unit+yellow soils) (P2)","Incised valley fill (P1+P3)","Esplugrafeda formation (P3+P4)"],"range":[200,185,230,250]},"legend":null}}},
{"data":{"name":"catLabels"},"mark":{"type":"text","font":"DejaVu Sans","fontSize":30,"color":"#262626","align":"center","baseline":"alphabetic"},
 "encoding":{"text":{"field":"t"},"x":{"field":"x","type":"quantitative","scale":{"type":"linear","domain":[0,20],"range":[1275.5,1944],"nice":false,"zero":false},"axis":null},
  "y":{"field":"y","type":"quantitative","scale":{"type":"linear","domain":[0,16],"range":[792,154],"nice":false,"zero":false},"axis":null}}},
{"data":{"name":"one"},"mark":{"type":"text","text":"+","font":"Open Sans","fontSize":42,"color":"#000","align":"center","baseline":"middle"},
 "encoding":{"x":{"datum":-0.2244,"scale":{"type":"linear","domain":[0,20],"range":[1275.5,1944],"nice":false,"zero":false},"axis":null},"y":{"datum":18.68,"scale":{"type":"linear","domain":[0,16],"range":[792,154],"nice":false,"zero":false},"axis":null}}},
{"data":{"name":"one"},"mark":{"type":"text","text":"—Magnetite grain size","font":"Open Sans","fontSize":42,"color":"#000","align":"left","baseline":"alphabetic"},
 "encoding":{"x":{"datum":1.0,"scale":{"type":"linear","domain":[0,20],"range":[1275.5,1944],"nice":false,"zero":false},"axis":null},"y":{"datum":18.43,"scale":{"type":"linear","domain":[0,16],"range":[792,154],"nice":false,"zero":false},"axis":null}}},
{"data":{"name":"one"},"mark":{"type":"text","text":"→","font":"DejaVu Sans","fontWeight":"bold","fontSize":44,"color":"#000","align":"center","baseline":"middle"},
 "encoding":{"x":{"datum":15.453,"scale":{"type":"linear","domain":[0,20],"range":[1275.5,1944],"nice":false,"zero":false},"axis":null},"y":{"datum":18.68,"scale":{"type":"linear","domain":[0,16],"range":[792,154],"nice":false,"zero":false},"axis":null}}},
{"data":{"name":"one"},"mark":{"type":"text","text":"–","font":"Open Sans","fontSize":42,"color":"#000","align":"center","baseline":"middle"},
 "encoding":{"x":{"datum":17.218,"scale":{"type":"linear","domain":[0,20],"range":[1275.5,1944],"nice":false,"zero":false},"axis":null},"y":{"datum":18.68,"scale":{"type":"linear","domain":[0,16],"range":[792,154],"nice":false,"zero":false},"axis":null}}},
{"data":{"name":"one"},"mark":{"type":"text","text":"– — Magnetite SP content → +","font":"DejaVu Sans","fontSize":40,"angle":270,"color":"#000","align":"center","baseline":"alphabetic"},
 "encoding":{"x":{"datum":-4.443,"scale":{"type":"linear","domain":[0,20],"range":[1275.5,1944],"nice":false,"zero":false},"axis":null},"y":{"datum":6.796,"scale":{"type":"linear","domain":[0,16],"range":[792,154],"nice":false,"zero":false},"axis":null}}},
{"data":{"name":"one"},"mark":{"type":"text","text":"χ","font":"DejaVu Sans","fontSize":42,"angle":270,"color":"#262626","align":"left","baseline":"alphabetic"},
 "encoding":{"x":{"datum":-3.007,"scale":{"type":"linear","domain":[0,20],"range":[1275.5,1944],"nice":false,"zero":false},"axis":null},"y":{"datum":6.169,"scale":{"type":"linear","domain":[0,16],"range":[792,154],"nice":false,"zero":false},"axis":null}}},
{"data":{"name":"one"},"mark":{"type":"text","text":"fd","font":"DejaVu Sans","fontSize":20,"angle":270,"color":"#262626","align":"left","baseline":"alphabetic"},
 "encoding":{"x":{"datum":-2.707,"scale":{"type":"linear","domain":[0,20],"range":[1275.5,1944],"nice":false,"zero":false},"axis":null},"y":{"datum":6.821,"scale":{"type":"linear","domain":[0,16],"range":[792,154],"nice":false,"zero":false},"axis":null}}},
{"data":{"name":"one"},"mark":{"type":"text","text":"(%)","font":"DejaVu Sans","fontSize":37,"angle":270,"color":"#262626","align":"left","baseline":"alphabetic"},
 "encoding":{"x":{"datum":-3.007,"scale":{"type":"linear","domain":[0,20],"range":[1275.5,1944],"nice":false,"zero":false},"axis":null},"y":{"datum":7.574,"scale":{"type":"linear","domain":[0,16],"range":[792,154],"nice":false,"zero":false},"axis":null}}},
{"data":{"name":"one"},"mark":{"type":"text","text":"χ","font":"DejaVu Sans","fontSize":37,"color":"#262626","align":"left","baseline":"alphabetic"},
 "encoding":{"x":{"datum":4.383,"scale":{"type":"linear","domain":[0,20],"range":[1275.5,1944],"nice":false,"zero":false},"axis":null},"y":{"datum":-2.909,"scale":{"type":"linear","domain":[0,16],"range":[792,154],"nice":false,"zero":false},"axis":null}}},
{"data":{"name":"one"},"mark":{"type":"text","text":"ARM","font":"DejaVu Sans","fontSize":21,"color":"#262626","align":"left","baseline":"alphabetic"},
 "encoding":{"x":{"datum":5.071,"scale":{"type":"linear","domain":[0,20],"range":[1275.5,1944],"nice":false,"zero":false},"axis":null},"y":{"datum":-3.085,"scale":{"type":"linear","domain":[0,16],"range":[792,154],"nice":false,"zero":false},"axis":null}}},
{"data":{"name":"one"},"mark":{"type":"text","text":"/SIRM (10","font":"DejaVu Sans","fontSize":37,"color":"#262626","align":"left","baseline":"alphabetic"},
 "encoding":{"x":{"datum":6.507,"scale":{"type":"linear","domain":[0,20],"range":[1275.5,1944],"nice":false,"zero":false},"axis":null},"y":{"datum":-2.909,"scale":{"type":"linear","domain":[0,16],"range":[792,154],"nice":false,"zero":false},"axis":null}}},
{"data":{"name":"one"},"mark":{"type":"text","text":"-4","font":"DejaVu Sans","fontSize":21,"color":"#262626","align":"left","baseline":"alphabetic"},
 "encoding":{"x":{"datum":11.862,"scale":{"type":"linear","domain":[0,20],"range":[1275.5,1944],"nice":false,"zero":false},"axis":null},"y":{"datum":-2.483,"scale":{"type":"linear","domain":[0,16],"range":[792,154],"nice":false,"zero":false},"axis":null}}},
{"data":{"name":"one"},"mark":{"type":"text","text":"m/A)","font":"DejaVu Sans","fontSize":37,"color":"#262626","align":"left","baseline":"alphabetic"},
 "encoding":{"x":{"datum":12.909,"scale":{"type":"linear","domain":[0,20],"range":[1275.5,1944],"nice":false,"zero":false},"axis":null},"y":{"datum":-2.909,"scale":{"type":"linear","domain":[0,16],"range":[792,154],"nice":false,"zero":false},"axis":null}}},
{"data":{"name":"one"},"mark":{"type":"text","text":"(Dearing et al., 1997)","font":"DejaVu Sans","fontSize":35,"color":"#000","align":"left","baseline":"alphabetic"},
 "encoding":{"x":{"datum":-5.4,"scale":{"type":"linear","domain":[0,20],"range":[1275.5,1944],"nice":false,"zero":false},"axis":null},"y":{"datum":-4.539,"scale":{"type":"linear","domain":[0,16],"range":[792,154],"nice":false,"zero":false},"axis":null}}}
],
"resolve":{"axis":{"x":"independent","y":"independent"}}
}
],
"resolve":{"scale":{"x":"independent","y":"independent","color":"independent","shape":"independent","size":"independent"},"axis":{"x":"independent","y":"independent"},"legend":{"color":"independent","shape":"independent","size":"independent"}}
}
